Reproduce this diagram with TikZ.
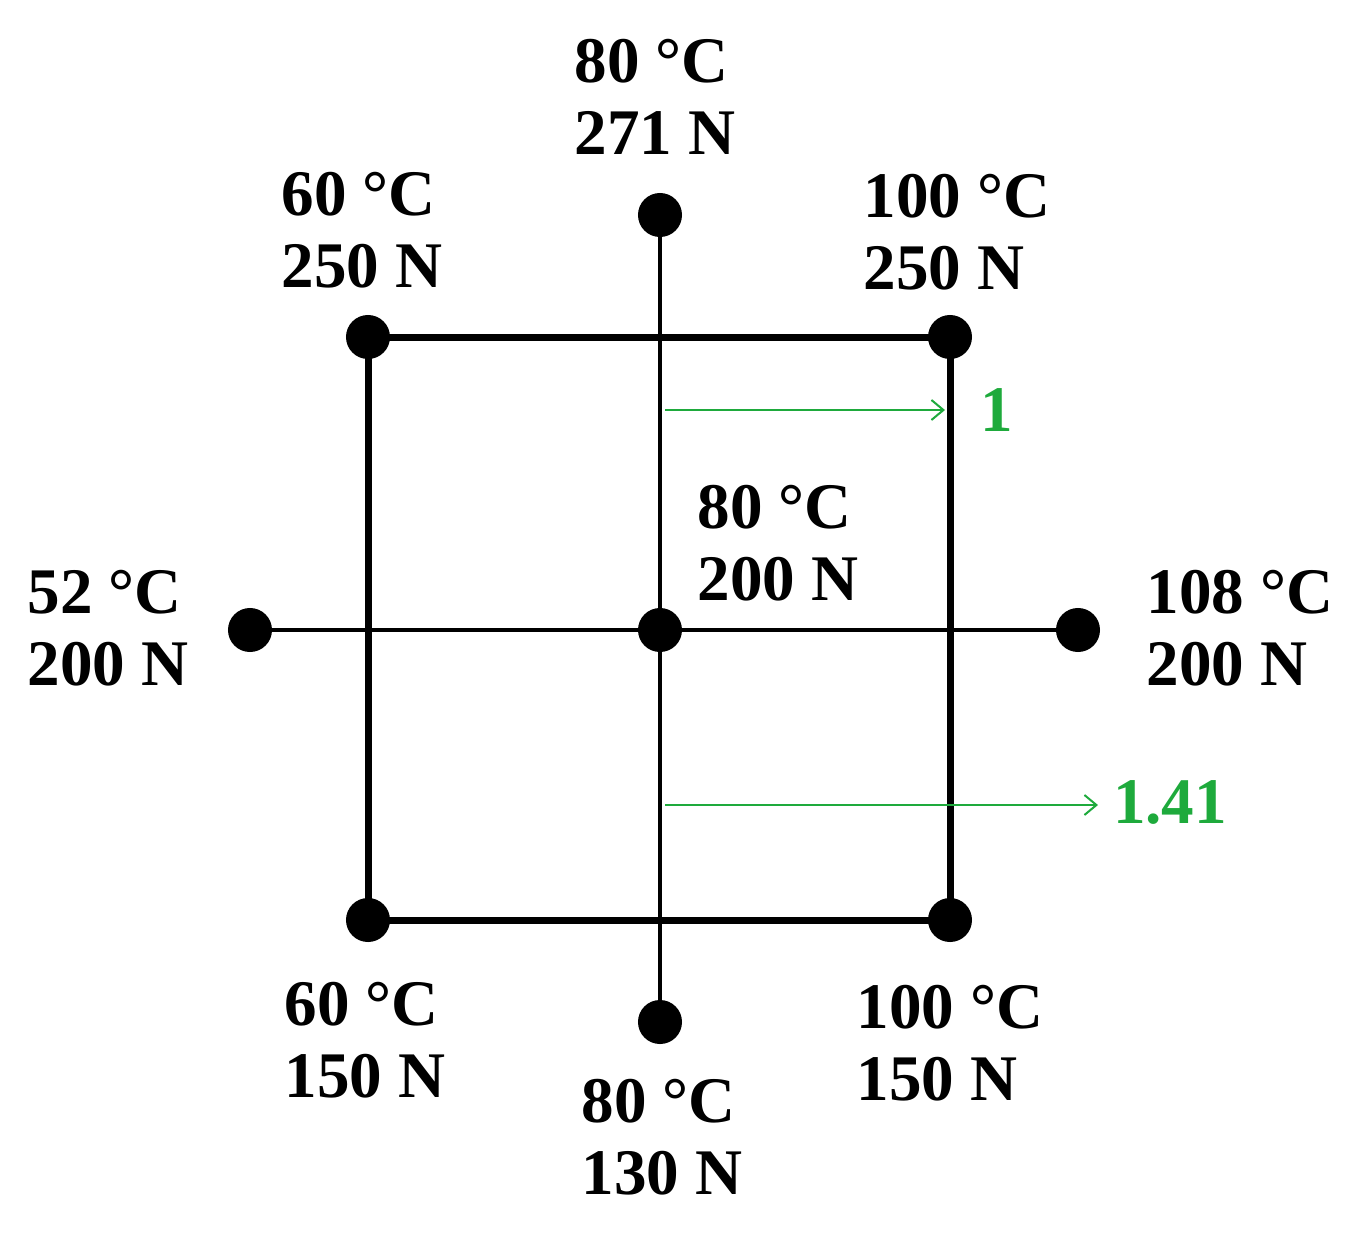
\documentclass[tikz,border=0pt]{standalone}
\usepackage{fontspec}
\setmainfont{Liberation Serif}
\usetikzlibrary{arrows.meta}
\definecolor{grn}{RGB}{30,170,60}
\begin{document}
\begin{tikzpicture}[x=0.01cm,y=-0.01cm,
  dot/.style={circle,fill=black,inner sep=0pt,minimum size=0.44cm},
  lab/.style={font=\fontsize{18.5}{20.5}\selectfont\bfseries,align=left,inner sep=0pt},
  glab/.style={font=\fontsize{18.5}{20.5}\selectfont\bfseries,text=grn,inner sep=0pt},
  thick/.style={line width=0.07cm},
  thin/.style={line width=0.04cm},
  garrow/.style={grn,line width=0.02cm,-{Straight Barb[length=0.12cm,width=0.2cm]}}]
\useasboundingbox (0,0) rectangle (1360,1236);
\node[dot] (tl) at (368,337) {};
\node[dot] (tr) at (950,337) {};
\node[dot] (bl) at (368,920) {};
\node[dot] (br) at (950,920) {};
\node[dot] (t) at (660,215) {};
\node[dot] (b) at (660,1022) {};
\node[dot] (l) at (250,630) {};
\node[dot] (r) at (1078,630) {};
\node[dot] (m) at (660,630) {};
\draw[thin] (t.center) -- (b.center);
\draw[thin] (l.center) -- (r.center);
\draw[thick] (tl.center) -- (tr.center) -- (br.center) -- (bl.center) -- cycle;
\coordinate (a1) at (665,410); \coordinate (a2) at (945,410);
\coordinate (b1) at (665,805); \coordinate (b2) at (1098,805);
\draw[garrow] (a1) -- (a2);
\draw[garrow] (b1) -- (b2);
\node[glab] (g1) at (997,410) {1};
\node[glab] (g2) at (1170,802) {1.41};
\node[lab] at (655,97) {80 °C\\271 N};
\node[lab] at (362,230) {60 °C\\250 N};
\node[lab] at (957,232) {100 °C\\250 N};
\node[lab] at (778,543) {80 °C\\200 N};
\node[lab] at (108,628) {52 °C\\200 N};
\node[lab] at (1240,628) {108 °C\\200 N};
\node[lab] at (365,1040) {60 °C\\150 N};
\node[lab] at (662,1137) {80 °C\\130 N};
\node[lab] at (950,1043) {100 °C\\150 N};
\end{tikzpicture}
\end{document}
